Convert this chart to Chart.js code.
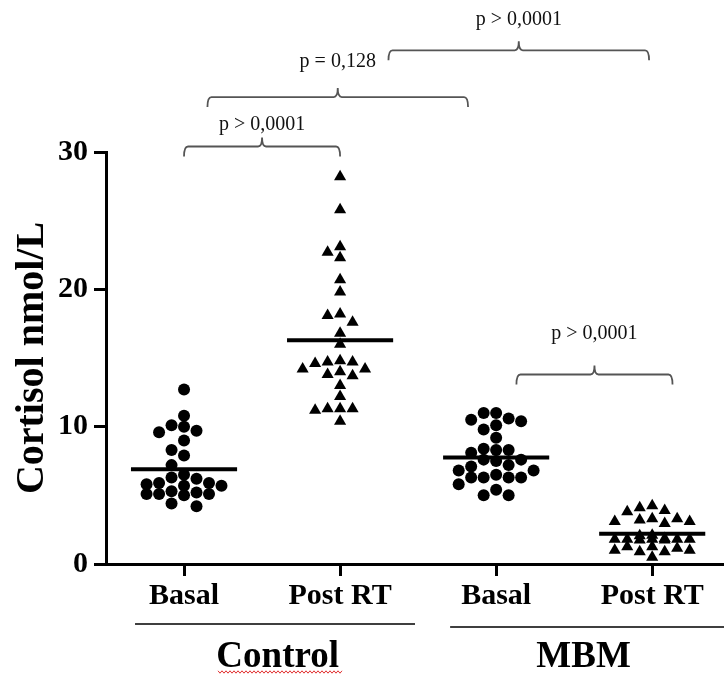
<!DOCTYPE html>
<html>
<head>
<meta charset="utf-8">
<script src="https://cdn.jsdelivr.net/npm/chart.js@4.4.1/dist/chart.umd.min.js"></script>
<style>
  body { margin: 0; background: #fff; }
  canvas { display: block; }
</style>
</head>
<body>
<canvas id="myChart" width="724" height="677"></canvas>
<script>
// categories
const groups = ['Basal', 'Post RT', 'Basal', 'Post RT'];
const arms = ['Control', 'MBM'];
const yTicks = [0, 10, 20, 30];

// cortisol values (nmol/L)
const controlBasal = [12.7, 10.8, 10.1, 9.7, 9.6, 10.0, 9.0, 8.3, 7.9, 7.2, 6.5, 6.2, 6.3, 5.9, 5.9,
                      5.7, 5.8, 5.7, 5.3, 5.1, 5.0, 5.1, 5.2, 5.1, 4.4, 4.2];
const controlPostRT = [28.2, 25.8, 23.1, 22.7, 22.3, 20.7, 19.8, 18.1, 18.2, 17.6, 16.8, 16.0, 14.7, 14.2,
                       14.7, 14.6, 14.8, 14.0, 13.7, 13.8, 14.2, 13.0, 12.2, 11.3, 11.3, 11.2, 11.3, 10.4];
const mbmBasal = [11.0, 10.6, 10.4, 10.1, 10.5, 11.0, 9.8, 9.2, 8.4, 8.3, 8.3, 8.1, 7.6, 7.6, 7.5, 7.2,
                  7.1, 6.8, 6.3, 6.3, 6.3, 6.3, 6.5, 6.8, 5.8, 5.4, 5.0, 5.0];
const mbmPostRT = [3.8, 4.1, 3.9, 4.25, 3.3, 3.2, 2.95, 3.1, 3.1, 3.3, 2.05, 1.85, 1.8, 1.8, 1.75, 1.8,
                   1.75, 1.8, 1.8, 2.1, 1.25, 1.0, 0.9, 0.5, 1.25, 0.9, 1.0, 1.15];
const medians = [6.9, 16.3, 7.75, 2.2];
const pLabels = ['p > 0,0001', 'p = 0,128', 'p > 0,0001', 'p > 0,0001'];

const seriesList = [controlBasal, controlPostRT, mbmBasal, mbmPostRT];
const markers = ['circle', 'triangle', 'circle', 'triangle'];

// column scatter: push overlapping points sideways, at most 3 columns each side
const step = 0.08, gap = 0.8, halfBar = 0.34;
const slots = [0, -1, 1, -2, 2, -3, 3];
function swarm(values, center) {
  const placed = [];
  values.slice().sort((a, b) => b - a).forEach(v => {
    let best = 0, bestD = -1;
    for (const k of slots) {
      let d = Infinity;
      placed.forEach(p => { if (p.k === k) d = Math.min(d, Math.abs(p.y - v)); });
      if (d >= gap) { best = k; bestD = d; break; }
      if (d > bestD) { best = k; bestD = d; }
    }
    placed.push({ k: best, y: v });
  });
  return placed.map(p => ({ x: center + p.k * step, y: p.y }));
}

const datasets = [];
seriesList.forEach((vals, i) => {
  datasets.push({
    data: swarm(vals, i + 1),
    pointStyle: markers[i],
    pointRadius: markers[i] === 'triangle' ? 7 : 6,
    backgroundColor: '#000',
    borderWidth: 0
  });
});
medians.forEach((m, i) => {
  datasets.push({
    data: [{ x: i + 1 - halfBar, y: m }, { x: i + 1 + halfBar, y: m }],
    showLine: true,
    borderColor: '#000',
    borderWidth: 4,
    pointRadius: 0
  });
});

// brackets: [x from, x to, line y, label y] in axis units
const brackets = [
  [1.0, 2.0, 30.4, 32.0],
  [1.15, 2.82, 34.0, 36.6],
  [2.31, 3.98, 37.4, 39.6],
  [3.13, 4.13, 13.8, 16.8]
];

const annotations = {
  id: 'annotations',
  afterDraw(chart) {
    const { ctx, scales: { x, y }, chartArea } = chart;
    ctx.save();
    ctx.strokeStyle = '#555';
    ctx.lineWidth = 1.8;
    ctx.fillStyle = '#111';
    ctx.font = '20px "Liberation Serif"';
    ctx.textAlign = 'center';
    ctx.textBaseline = 'middle';
    brackets.forEach((b, i) => {
      const x1 = x.getPixelForValue(b[0]), x2 = x.getPixelForValue(b[1]);
      const xm = (x1 + x2) / 2, yl = y.getPixelForValue(b[2]);
      ctx.beginPath();
      ctx.moveTo(x1, yl + 10);
      ctx.quadraticCurveTo(x1, yl, x1 + 4, yl);
      ctx.lineTo(xm - 4, yl);
      ctx.quadraticCurveTo(xm, yl, xm, yl - 9);
      ctx.quadraticCurveTo(xm, yl, xm + 4, yl);
      ctx.lineTo(x2 - 4, yl);
      ctx.quadraticCurveTo(x2, yl, x2, yl + 10);
      ctx.stroke();
      ctx.fillText(pLabels[i], xm, y.getPixelForValue(b[3]));
    });

    // arm labels under the axis
    ctx.strokeStyle = '#000';
    ctx.lineWidth = 1.5;
    ctx.beginPath();
    ctx.moveTo(x.getPixelForValue(0.686), 624);
    ctx.lineTo(x.getPixelForValue(2.48), 624);
    ctx.moveTo(x.getPixelForValue(2.705), 627);
    ctx.lineTo(chartArea.right, 627);
    ctx.stroke();

    ctx.fillStyle = '#000';
    ctx.font = 'bold 37px "Liberation Serif"';
    ctx.textBaseline = 'alphabetic';
    ctx.fillText(arms[0], x.getPixelForValue(1.6), 667);
    ctx.fillText(arms[1], x.getPixelForValue(3.56), 667);

    // spell-check squiggle under "Control"
    ctx.strokeStyle = '#e03030';
    ctx.lineWidth = 1;
    ctx.beginPath();
    for (let px = 218, j = 0; px <= 343; px += 2, j++) {
      const py = 672 + (j % 2 ? 1.2 : -1.2);
      if (j === 0) ctx.moveTo(px, py); else ctx.lineTo(px, py);
    }
    ctx.stroke();
    ctx.restore();
  }
};

new Chart(document.getElementById('myChart'), {
  type: 'scatter',
  data: { datasets: datasets },
  options: {
    responsive: false,
    animation: false,
    layout: { autoPadding: false, padding: { top: 152, left: 0, right: 0, bottom: 0 } },
    plugins: { legend: { display: false }, tooltip: { enabled: false } },
    scales: {
      x: {
        type: 'linear',
        min: 0.5,
        max: 4.46,
        afterBuildTicks: s => { s.ticks = groups.map((g, i) => ({ value: i + 1 })); },
        afterFit: s => { s.height = 113; s.paddingLeft = 0; s.paddingRight = 0; },
        ticks: {
          callback: (v, i) => groups[i],
          font: { family: 'Liberation Serif', size: 30, weight: 'bold' },
          color: '#000',
          padding: 2,
          maxRotation: 0
        },
        grid: { drawOnChartArea: false, drawTicks: true, tickLength: 12, tickWidth: 3, tickColor: '#000' },
        border: { display: true, color: '#000', width: 3 }
      },
      y: {
        min: 0,
        max: 30,
        afterBuildTicks: s => { s.ticks = yTicks.map(v => ({ value: v })); },
        afterFit: s => { s.width = 106; },
        ticks: {
          font: { family: 'Liberation Serif', size: 30, weight: 'bold' },
          color: '#000',
          padding: 6
        },
        grid: { drawOnChartArea: false, drawTicks: true, tickLength: 12, tickWidth: 3, tickColor: '#000' },
        border: { display: true, color: '#000', width: 3 },
        title: {
          display: true,
          text: 'Cortisol nmol/L',
          font: { family: 'Liberation Serif', size: 40, weight: 'bold' },
          color: '#000',
          padding: { top: 9, bottom: 0 }
        }
      }
    }
  },
  plugins: [annotations]
});
</script>
</body>
</html>
